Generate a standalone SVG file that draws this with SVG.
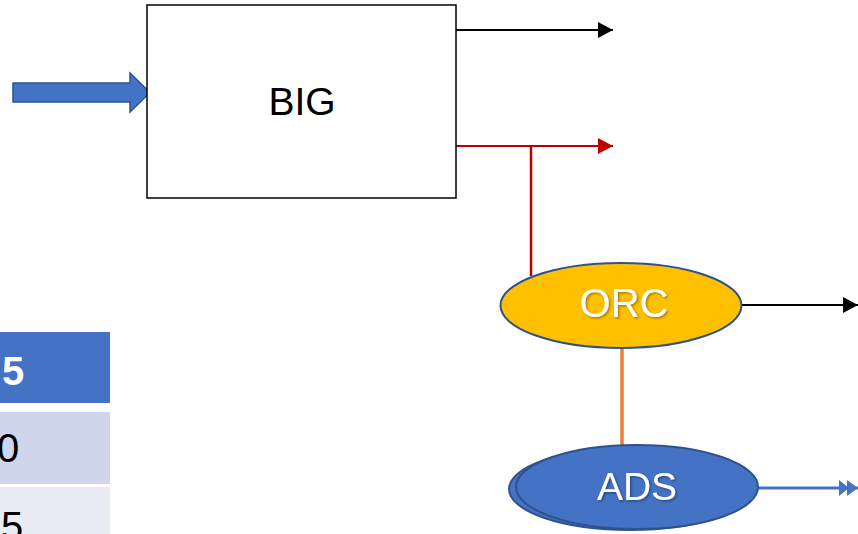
<svg xmlns="http://www.w3.org/2000/svg" width="858" height="534" viewBox="0 0 858 534">
  <style>
    .lbl { font-family: "Liberation Sans", Arial, sans-serif; text-anchor: middle; }
    .white { fill: #ffffff; }
    .cell { font-family: "Liberation Sans", Arial, sans-serif; font-size: 40px; }
  </style>
  <defs>
    <marker id="headBlack" markerWidth="16" markerHeight="16" refX="15" refY="8" orient="auto" markerUnits="userSpaceOnUse">
      <path d="M0,0 L15,8 L0,16 Z" fill="#000000"/>
    </marker>
    <marker id="headRed" markerWidth="16" markerHeight="16" refX="15" refY="8" orient="auto" markerUnits="userSpaceOnUse">
      <path d="M0,0 L15,8 L0,16 Z" fill="#C00000"/>
    </marker>
    <marker id="headBlueDouble" markerWidth="20" markerHeight="18" refX="19" refY="9" orient="auto" markerUnits="userSpaceOnUse">
      <path d="M0,1 L10,9 L0,17 Z M8,1 L19,9 L8,17 Z" fill="#4472C4"/>
    </marker>
    <filter id="txtShadow" x="-20%" y="-20%" width="140%" height="140%">
      <feDropShadow dx="1.5" dy="1.5" stdDeviation="1" flood-color="#000000" flood-opacity="0.35"/>
    </filter>
  </defs>

  <rect width="858" height="534" fill="#ffffff"/>

  <!-- table fragment at the left edge -->
  <g id="table">
    <rect x="0" y="332" width="110" height="71" fill="#4472C4"/>
    <rect x="0" y="412" width="110" height="72" fill="#CFD5EA"/>
    <rect x="0" y="487" width="110" height="47" fill="#E9EBF5"/>
    <text class="cell" x="2" y="385" font-weight="bold" fill="#ffffff">5</text>
    <text class="cell" x="-3" y="462" fill="#000000">0</text>
    <text class="cell" x="1" y="540" fill="#000000">5</text>
  </g>

  <!-- connectors -->
  <g id="connectors" fill="none">
    <line x1="456" y1="30" x2="613" y2="30" stroke="#000000" stroke-width="2" marker-end="url(#headBlack)"/>
    <line x1="456" y1="146" x2="613" y2="146" stroke="#C00000" stroke-width="2" marker-end="url(#headRed)"/>
    <line x1="531" y1="146" x2="531" y2="276" stroke="#C00000" stroke-width="2.5"/>
    <line x1="742" y1="305" x2="858" y2="305" stroke="#000000" stroke-width="2" marker-end="url(#headBlack)"/>
    <line x1="622" y1="347" x2="622" y2="447" stroke="#ED7D31" stroke-width="3.5"/>
    <line x1="758" y1="488" x2="858" y2="488" stroke="#4472C4" stroke-width="3" marker-end="url(#headBlueDouble)"/>
  </g>

  <!-- input block arrow -->
  <g id="inputArrow">
    <path d="M13,83 L130,83 L130,73 L150,92.5 L130,112 L130,102 L13,102 Z" fill="#4472C4" stroke="#2F528F" stroke-width="1.5"/>
  </g>

  <g id="BIG">
    <rect x="147" y="5" width="309" height="193" fill="#ffffff" stroke="#000000" stroke-width="1.5"/>
    <text class="lbl" x="302" y="115" font-size="39" fill="#000000">BIG</text>
  </g>

  <g id="ORC">
    <ellipse cx="621" cy="305.5" rx="120.5" ry="42.5" fill="#FFC000" stroke="#2F528F" stroke-width="2"/>
    <text class="lbl white" x="624" y="317" font-size="40" filter="url(#txtShadow)">ORC</text>
  </g>

  <g id="ADS">
    <ellipse cx="630" cy="489" rx="121" ry="41" fill="#4472C4" stroke="#2F528F" stroke-width="2"/>
    <ellipse cx="637" cy="487" rx="121" ry="42" fill="#4472C4" stroke="#2F528F" stroke-width="2"/>
    <text class="lbl white" x="637" y="500" font-size="39" filter="url(#txtShadow)">ADS</text>
  </g>
</svg>
